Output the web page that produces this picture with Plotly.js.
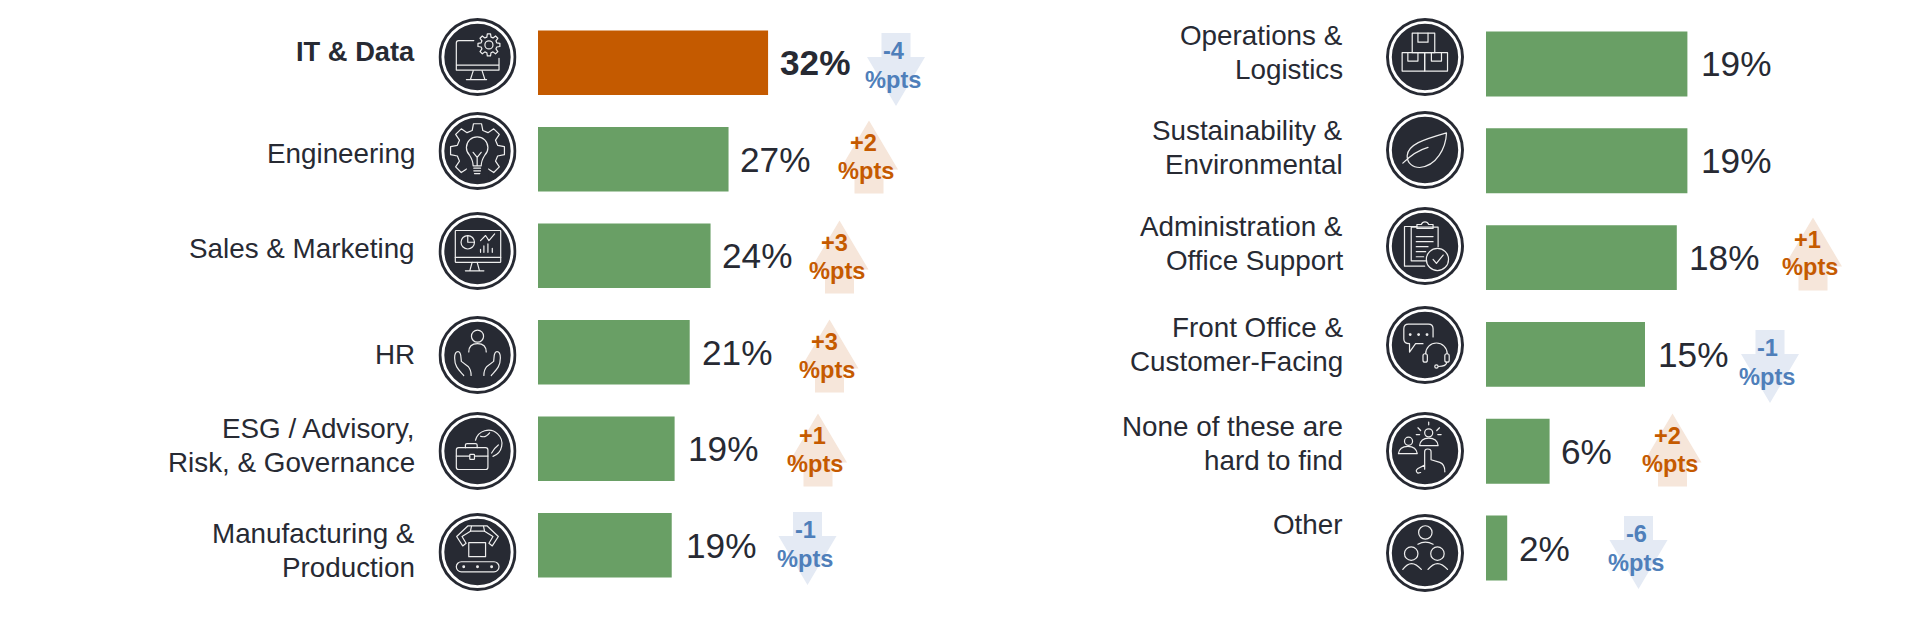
<!DOCTYPE html>
<html>
<head>
<meta charset="utf-8">
<script src="https://cdn.plot.ly/plotly-3.0.1.min.js"></script>
<style>html,body{margin:0;padding:0;background:#fff}#chart{width:1920px;height:620px}</style>
</head>
<body>
<div id="chart"></div>
<script>
// ---------- DATA ----------
const leftCategories = ["IT & Data","Engineering","Sales & Marketing","HR","ESG / Advisory,<br>Risk, & Governance","Manufacturing &<br>Production"];
const leftValues = [32, 26.5, 24, 21.1, 19, 18.6];
const leftLabels = [32, 27, 24, 21, 19, 19];
const leftChanges = [-4, 2, 3, 3, 1, -1];

const rightCategories = ["Operations &<br>Logistics","Sustainability &<br>Environmental","Administration &<br>Office Support","Front Office &<br>Customer-Facing","None of these are<br>hard to find","Other"];
const rightValues = [19, 19, 18, 15, 6, 2];
const rightLabels = [19, 19, 18, 15, 6, 2];
const rightChanges = [null, null, 1, -1, 2, -6];

// ---------- LAYOUT TABLES (pixels) ----------
const W = 1920, H = 620;
const DARK = "#272a33", GREEN = "#699f65", ORANGE = "#c45a00";
const UP_FILL = "#f6e6da", DOWN_FILL = "#e4eaf4", UP_TEXT = "#c55a00", DOWN_TEXT = "#4f7fba";
const px = x => x / W, py = y => 1 - y / H;

const leftLabelY = [52, 153, 248.5, 354.5, 428.5, 533];
const rightLabelY = [35.5, 130, 226, 327, 426, 524];
const leftValueShift = [10, 9.5, 9, 10, 11.5, 12];
const rightValueShift = [12, 12, 10.5, 10.5, 9.5, 10];
const leftIconY = [57, 151, 251, 355, 451, 552];
const rightIconY = [57, 150, 246, 345, 451, 553];
const leftArrowX = [896, 869, 839.5, 829.5, 818, 807.5];
const leftArrowTop = [33, 120.5, 220.5, 319.5, 413.5, 512];
const rightArrowX = [0, 0, 1813, 1770, 1672.5, 1638.5];
const rightArrowTop = [0, 0, 217.5, 330, 413.5, 516];

// ---------- ICONS ----------
function gear(cx, cy, ro, ri, n) {
  let d = "";
  const step = 2 * Math.PI / n, a0 = -Math.PI / 2;
  for (let i = 0; i < n; i++) {
    const a = a0 + i * step;
    const pts = [[ri, -0.30], [ro, -0.17], [ro, 0.17], [ri, 0.30]];
    pts.forEach(p => {
      const t = a + p[1] * step * 1.1;
      d += (d ? "L" : "M") + (cx + p[0] * Math.cos(t)).toFixed(1) + " " + (cy + p[0] * Math.sin(t)).toFixed(1);
    });
  }
  return d + "Z";
}
const hand = "M75 177C60 160 48 150 48 125Q48 106 58 106Q66 106 67 125L68 135L88 150Q97 160 97 177";
const iconBodies = {
  it: `<path d="M105 67H60Q53 67 53 74V155H180V120M53 140H180M103 158L95 183M130 158L138 183M83 183H143"/><path d="${gear(150,80,33,24,8)}"/><circle cx="150" cy="80" r="12"/>`,
  eng: `<path d="${gear(116,115,81,62,8)}"/><rect x="84" y="160" width="64" height="45" fill="${DARK}" stroke="none"/><path d="M103 160Q103 145 92 128A32 32 0 1 1 138 128Q127 145 127 160ZM115 160V135M103 120L115 135L127 120M105 167H125M105 175H125M107 183H123"/>`,
  sales: `<g transform="translate(0 27)"><rect x="50" y="28" width="135" height="95" rx="2"/><path d="M50 108H185M100 123L93 148M115 123L122 148M80 148H135"/><circle cx="87" cy="63" r="20"/><path d="M87 63V43M87 63H107"/><path d="M125 58L140 43L150 58L167 38"/><path d="M125 93V84M135 93V74M147 93V68M160 93V81"/></g>`,
  hr: `<circle cx="116" cy="60" r="18"/><path d="M90 107Q90 82 116 82Q142 82 142 107"/><path d="${hand}"/><path transform="translate(232 0) scale(-1 1)" d="${hand}"/>`,
  esg: `<rect x="53" y="106" width="94" height="65" rx="7"/><path d="M80 106V98Q80 94 85 94H110Q115 94 115 98V106M53 131H93M107 131H147"/><rect x="93" y="126" width="14" height="15" rx="2"/><path d="M110 84A40 40 0 1 1 162 132"/><path d="M125 72Q140 78 152 62M158 122Q168 105 178 98"/>`,
  mfg: `<rect x="53" y="145" width="127" height="30" rx="15"/><circle cx="75" cy="160" r="2.5" fill="#eeeeee"/><circle cx="116" cy="160" r="2.5" fill="#eeeeee"/><circle cx="158" cy="160" r="2.5" fill="#eeeeee"/><rect x="90" y="88" width="50" height="42"/><path d="M88 38L54 70L72 98L82 90L70 70L95 54H137L162 70L150 90L160 98L178 70L144 38Z"/><path d="M95 54L98 40M137 54L134 40"/>`,
  ops: `<rect x="78" y="45" width="67" height="58"/><path d="M95 45V72H125V45"/><rect x="48" y="103" width="67" height="55"/><rect x="115" y="103" width="68" height="55"/><path d="M65 103V128H95V103M135 103V128H165V103"/>`,
  sus: `<path d="M63 133C65 100 110 85 180 65C178 110 150 165 100 168C80 168 62 155 63 133Z"/><path d="M50 155C75 130 100 115 125 108"/>`,
  admin: `<path d="M92 58H55V176H115M75 60V160H118M75 60H155V118"/><path d="M92 64V52H105Q108 44 116 44Q124 44 127 52H140V64Z"/><path d="M90 88H140M90 103H140M90 118H125M90 133H118M90 148H112"/><circle cx="153" cy="156" r="33"/><path d="M140 156L150 168L170 143"/>`,
  front: `<path d="M110 112H88L70 137V112Q53 112 53 98V68Q53 54 67 54H126Q140 54 140 68V92"/><circle cx="72" cy="85" r="2.5" fill="#eeeeee"/><circle cx="97" cy="85" r="2.5" fill="#eeeeee"/><circle cx="122" cy="85" r="2.5" fill="#eeeeee"/><path d="M118 142A32 32 0 0 1 182 142"/><rect x="110" y="142" width="13" height="25" rx="6"/><rect x="175" y="142" width="13" height="25" rx="6"/><path d="M181 167Q180 180 156 180"/><circle cx="150" cy="180" r="5"/>`,
  none: `<circle cx="67" cy="87" r="12"/><path d="M37 124Q40 102 65 102Q90 102 93 124Z"/><circle cx="127" cy="62" r="12"/><path d="M100 100Q103 78 127 78Q152 78 155 100Z"/><path d="M95 47L103 55M90 67H100M159 47L151 55M164 67H154M127 30V38"/><path d="M115 170V118Q115 110 124 110Q134 110 134 118V142L160 150Q175 155 175 178M115 158L95 168Q85 175 95 182L103 180"/>`,
  other: `<circle cx="117" cy="55" r="20"/><path d="M95 90Q117 77 140 90"/><circle cx="75" cy="118" r="20"/><path d="M50 165Q75 130 105 165"/><circle cx="153" cy="118" r="20"/><path d="M125 165Q153 130 183 165"/>`
};
const leftIconNames = ["it","eng","sales","hr","esg","mfg"];
const rightIconNames = ["ops","sus","admin","front","none","other"];

function iconUri(name) {
  const svg = `<svg xmlns="http://www.w3.org/2000/svg" width="232" height="232" viewBox="0 0 232 232">` +
    `<circle cx="116" cy="116" r="116" fill="${DARK}"/>` +
    `<circle cx="116" cy="116" r="103" fill="${DARK}" stroke="#ffffff" stroke-width="8.5"/>` +
    `<g fill="none" stroke="#eeeeee" stroke-width="3.6" stroke-linejoin="round" stroke-linecap="round">${iconBodies[name]}</g></svg>`;
  return "data:image/svg+xml;charset=utf-8," + encodeURIComponent(svg);
}

// ---------- BUILD ----------
const FONT = "Liberation Sans, Arial, sans-serif";
const images = [], shapes = [], annotations = [];

function addRow(cfg) {
  cfg.cats.forEach((cat, i) => {
    const bold = i === 0 && cfg.boldFirst;
    cat.split("<br>").forEach((line, k) => {
      annotations.push({
        text: line, xref: "paper", yref: "paper", x: px(cfg.labelRight), y: py(cfg.labelY[i] + k * 34),
        xanchor: "right", yanchor: "middle", showarrow: false,
        font: {family: FONT, size: bold ? 27.3 : 27.8, color: DARK, weight: bold ? 700 : 400}
      });
    });
    images.push({
      source: iconUri(cfg.icons[i]), xref: "paper", yref: "paper",
      x: px(cfg.iconX), y: py(cfg.iconY[i]), sizex: 78 / W, sizey: 78 / H,
      xanchor: "center", yanchor: "middle", sizing: "stretch", layer: "above"
    });
    annotations.push({
      text: cfg.labels[i] + "%", xref: cfg.xa, yref: cfg.ya, x: cfg.vals[i], y: cat,
      xanchor: "left", yanchor: "middle", xshift: cfg.valueShift[i], showarrow: false,
      font: {family: FONT, size: 35.2, color: DARK, weight: bold ? 700 : 400}
    });
    const d = cfg.changes[i];
    if (d === null) return;
    const cx = cfg.arrowX[i], t = cfg.arrowTop[i];
    const up = d > 0;
    const P = (x, y) => px(cx + x) + " " + py(t + y);
    const path = up
      ? `M${P(0,0)} L${P(29,49)} L${P(14.5,49)} L${P(14.5,73)} L${P(-14.5,73)} L${P(-14.5,49)} L${P(-29,49)} Z`
      : `M${P(-14.5,0)} L${P(14.5,0)} L${P(14.5,24)} L${P(29,24)} L${P(0,73)} L${P(-29,24)} L${P(-14.5,24)} Z`;
    shapes.push({type: "path", xref: "paper", yref: "paper", path, fillcolor: up ? UP_FILL : DOWN_FILL, line: {width: 0}, layer: "below"});
    const col = up ? UP_TEXT : DOWN_TEXT;
    const fnt = {family: FONT, size: 23.6, color: col, weight: 700};
    annotations.push({text: (up ? "+" : "-") + Math.abs(d), xref: "paper", yref: "paper", x: px(cx + (up ? -5.5 : -2.5)), y: py(t + (up ? 22.5 : 18)),
      xanchor: "center", yanchor: "middle", showarrow: false, font: fnt});
    annotations.push({text: "%pts", xref: "paper", yref: "paper", x: px(cx - 2.7), y: py(t + (up ? 50 : 47)),
      xanchor: "center", yanchor: "middle", showarrow: false, font: fnt});
  });
}

addRow({cats: leftCategories, vals: leftValues, labels: leftLabels, changes: leftChanges, xa: "x", ya: "y",
  labelRight: 417, labelY: leftLabelY, valueShift: leftValueShift, iconX: 477.5, iconY: leftIconY, icons: leftIconNames,
  arrowX: leftArrowX, arrowTop: leftArrowTop, boldFirst: true});
addRow({cats: rightCategories, vals: rightValues, labels: rightLabels, changes: rightChanges, xa: "x2", ya: "y2",
  labelRight: 1345, labelY: rightLabelY, valueShift: rightValueShift, iconX: 1425, iconY: rightIconY, icons: rightIconNames,
  arrowX: rightArrowX, arrowTop: rightArrowTop, boldFirst: false});

const traces = [
  {type: "bar", orientation: "h", x: leftValues, y: leftCategories, xaxis: "x", yaxis: "y",
   marker: {color: leftValues.map((v, i) => i === 0 ? ORANGE : GREEN), line: {width: 0}}, hoverinfo: "skip"},
  {type: "bar", orientation: "h", x: rightValues, y: rightCategories, xaxis: "x2", yaxis: "y2",
   marker: {color: GREEN, line: {width: 0}}, hoverinfo: "skip"}
];
const hidden = {showgrid: false, zeroline: false, showline: false, showticklabels: false, ticks: "", fixedrange: true};
const layout = {
  width: W, height: H, margin: {l: 0, r: 0, t: 0, b: 0}, paper_bgcolor: "#fff", plot_bgcolor: "rgba(0,0,0,0)",
  showlegend: false, bargap: 0.33, font: {family: FONT, color: DARK},
  xaxis: {...hidden, domain: [538 / W, 960 / W], range: [0, 422 / 7.19], anchor: "y"},
  yaxis: {...hidden, domain: [1 - 593.5 / H, 1 - 14.5 / H], anchor: "x", type: "category", autorange: "reversed"},
  xaxis2: {...hidden, domain: [1486 / W, 1], range: [0, 434 / 10.6], anchor: "y2"},
  yaxis2: {...hidden, domain: [1 - 596.4 / H, 1 - 15.6 / H], anchor: "x2", type: "category", autorange: "reversed"},
  images, shapes, annotations
};
Plotly.newPlot("chart", traces, layout, {displayModeBar: false, staticPlot: true});
</script>
</body>
</html>
